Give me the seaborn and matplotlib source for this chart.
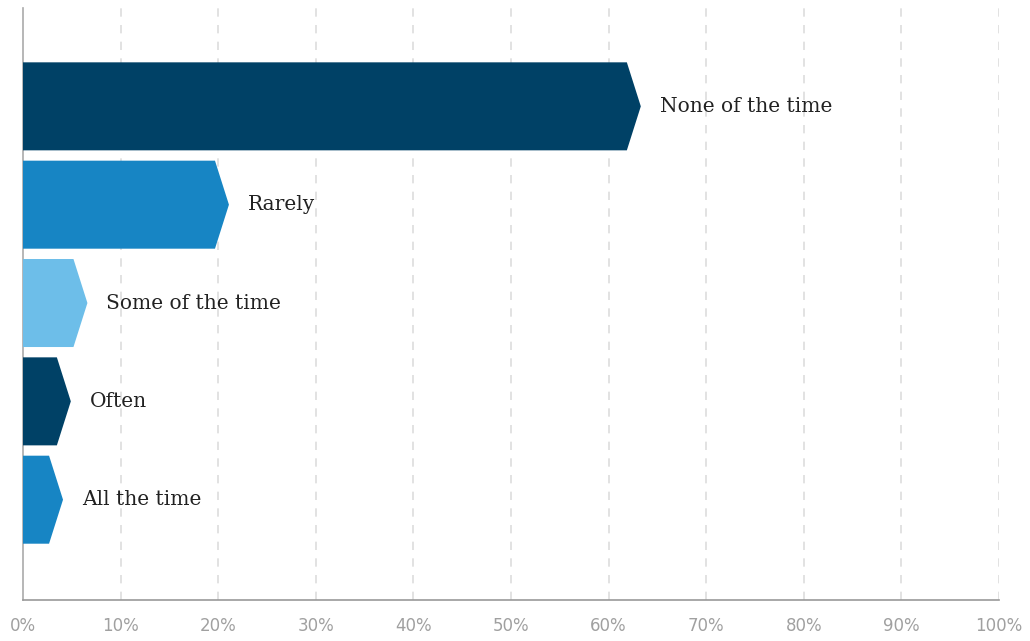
import matplotlib
matplotlib.use("Agg")
import matplotlib.pyplot as plt
import seaborn as sns
import pandas as pd
from matplotlib.patches import Polygon

categories = ["None of the time", "Rarely", "Some of the time", "Often", "All the time"]
values = [63.3, 21.1, 6.6, 4.9, 4.1]
colors = ["#004166", "#1785c4", "#6dbee9", "#004166", "#1785c4"]
tick_vals = list(range(0, 101, 10))
tick_labels = [f"{v}%" for v in tick_vals]

df = pd.DataFrame({"category": categories, "value": values})

sns.set_theme(style="white")
fig = plt.figure(figsize=(10.3, 6.41), dpi=100)
ax = fig.add_axes([23 / 1030, 41 / 641, 976 / 1030, 592 / 641])

sns.barplot(data=df, x="value", y="category", hue="category", palette=colors,
            orient="h", width=0.895, legend=False, ax=ax, saturation=1)

tip = 1.43  # length of chevron tip in data units
for p in list(ax.patches):
    x0 = p.get_x()
    w = p.get_width()
    y0 = p.get_y()
    h = p.get_height()
    fc = p.get_facecolor()
    end = x0 + w
    poly = Polygon([(x0, y0), (end - tip, y0), (end, y0 + h / 2),
                    (end - tip, y0 + h), (x0, y0 + h)], closed=True,
                   facecolor=fc, edgecolor="none", zorder=3)
    p.remove()
    ax.add_patch(poly)
    ax.text(end + 1.95, y0 + h / 2, categories[int(round(y0 + h / 2))],
            va="center", ha="left", fontsize=14.5, color="#222222",
            family="DejaVu Serif", zorder=4)

ax.set_xlim(0, 100)
ax.set_ylim(5.02, -1.0)
ax.set_xticks(tick_vals)
ax.set_xticklabels(tick_labels, color="#a0a0a0", fontsize=12)
ax.set_yticks([])
ax.set_xlabel("")
ax.set_ylabel("")
ax.tick_params(axis="x", direction="in", length=9, width=1, color="#999999", pad=12)
for t in tick_vals[1:]:
    ax.axvline(t, color="#dddddd", linestyle=(0, (5, 5)), linewidth=1.2, zorder=0)
for s in ["top", "right"]:
    ax.spines[s].set_visible(False)
ax.spines["left"].set_color("#aaaaaa")
ax.spines["bottom"].set_color("#999999")
ax.spines["left"].set_linewidth(1.2)
ax.spines["bottom"].set_linewidth(1.2)

fig.savefig("out.png", dpi=100)
